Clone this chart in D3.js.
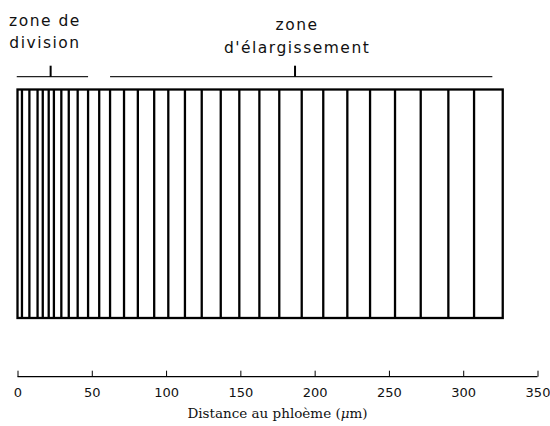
<!DOCTYPE html>
<html>
<head>
<meta charset="utf-8">
<script src="https://cdn.jsdelivr.net/npm/d3@7"></script>
<style>
  body { margin: 0; background: #fff; }
  svg { display: block; }
</style>
</head>
<body>
<svg id="chart"></svg>
<script>
// cell walls along the root, in µm from the phloem
const cellWalls = [0, 3, 8, 13.5, 17, 21, 24.5, 29.5, 34.5, 40.5, 47.5, 55, 62.3, 71.7, 81, 92,
  101.5, 112.7, 124, 136.8, 149.3, 162.8, 176.2, 191.3, 205.8, 222, 237.3, 254.1, 271.4, 290,
  307.3, 326.6];

const zoneNames = [['zone de', 'division'], ['zone', "d'élargissement"]];
const zoneStart = [-0.5, 62.3];
const zoneEnd = [47.5, 319.6];
const zoneTick = [22.3, 186.8];
const zoneText = [18.5, 188.2];

const xTicks = [0, 50, 100, 150, 200, 250, 300, 350];
const xLabel = 'Distance au phloème (';

const width = 550;
const height = 426;

const x = d3.scaleLinear().domain([0, 350]).range([17.5, 537.5]);
const y = d3.scaleLinear().domain([0, 1]).range([318, 89.5]);

const svg = d3.select('#chart')
  .attr('width', width)
  .attr('height', height);

// the cell file
const cells = svg.append('g').attr('class', 'cells');

cells.append('rect')
  .attr('x', x(cellWalls[0]))
  .attr('y', y(1))
  .attr('width', x(cellWalls[cellWalls.length - 1]) - x(cellWalls[0]))
  .attr('height', y(0) - y(1))
  .attr('fill', 'none')
  .attr('stroke', '#000')
  .attr('stroke-width', 2.3);

cells.selectAll('line.wall')
  .data(cellWalls.slice(1, -1))
  .enter().append('line')
  .attr('class', 'wall')
  .attr('x1', d => x(d))
  .attr('x2', d => x(d))
  .attr('y1', y(1))
  .attr('y2', y(0))
  .attr('stroke', '#000')
  .attr('stroke-width', 2.3);

// zone brackets
const bracketY = 76.7;
const zones = svg.append('g').attr('class', 'zones');

zoneNames.forEach((name, i) => {
  zones.append('line')
    .attr('x1', x(zoneStart[i]))
    .attr('x2', x(zoneEnd[i]))
    .attr('y1', bracketY)
    .attr('y2', bracketY)
    .attr('stroke', '#222')
    .attr('stroke-width', 1.3);

  zones.append('line')
    .attr('x1', x(zoneTick[i]))
    .attr('x2', x(zoneTick[i]))
    .attr('y1', bracketY)
    .attr('y2', bracketY - 11)
    .attr('stroke', '#000')
    .attr('stroke-width', 2);

  const baseline = i === 0 ? 26 : 30;
  const lineGap = i === 0 ? 21.5 : 23;
  zones.append('text')
    .attr('text-anchor', 'middle')
    .style('font-family', 'DejaVu Sans')
    .style('font-size', '15.5px')
    .style('letter-spacing', '1.5px')
    .style('fill', '#111')
    .selectAll('tspan')
    .data(name)
    .enter().append('tspan')
    .attr('x', x(zoneText[i]))
    .attr('y', (d, j) => baseline + j * lineGap)
    .text(d => d);
});

// distance axis
const axis = svg.append('g')
  .attr('class', 'axis')
  .attr('transform', 'translate(0,376.7)')
  .call(d3.axisTop(x).tickValues(xTicks).tickSize(6).tickFormat(d3.format('d')));

axis.select('.domain')
  .attr('d', `M${x(0)},0H${x(350)}`)
  .attr('stroke', '#000')
  .attr('stroke-width', 1.2);

axis.selectAll('.tick line')
  .attr('stroke', '#000')
  .attr('stroke-width', 1);

axis.selectAll('.tick text')
  .attr('y', 20)
  .attr('dy', null)
  .style('font-family', 'DejaVu Sans')
  .style('font-size', '13px')
  .style('fill', '#111');

const label = svg.append('text')
  .attr('x', (x(0) + x(350)) / 2)
  .attr('y', 418)
  .attr('text-anchor', 'middle')
  .style('font-family', 'DejaVu Serif')
  .style('font-size', '13.5px')
  .style('fill', '#111');

label.append('tspan').text(xLabel);
label.append('tspan').style('font-style', 'italic').text('μ');
label.append('tspan').text('m)');
</script>
</body>
</html>
